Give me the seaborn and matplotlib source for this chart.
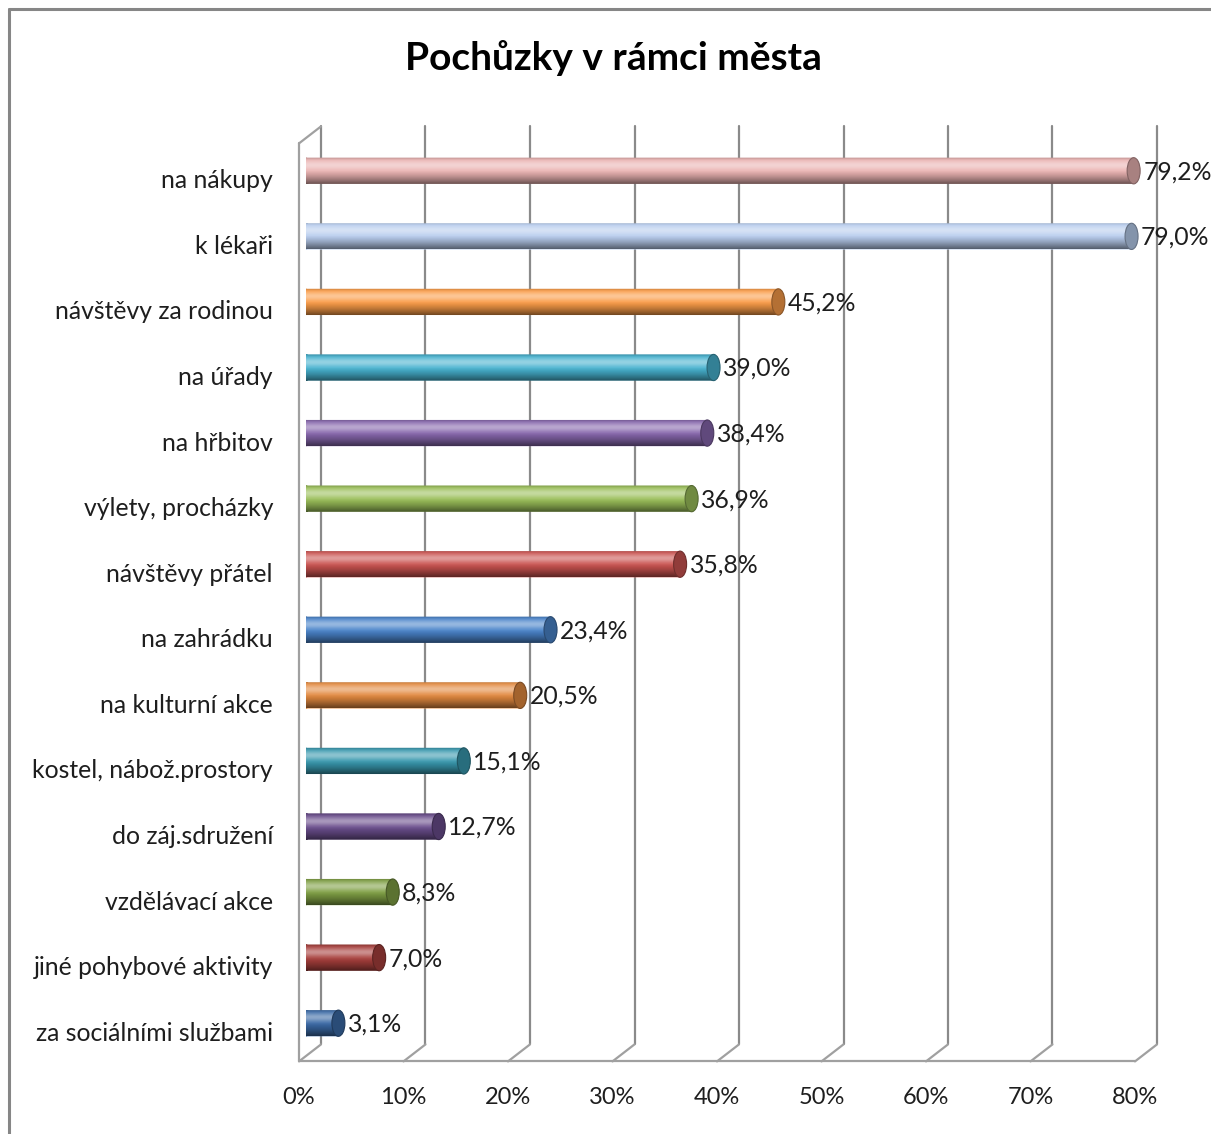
import matplotlib
matplotlib.use("Agg")
import matplotlib.pyplot as plt
import numpy as np
import pandas as pd
import seaborn as sns
from matplotlib.colors import to_rgb
from matplotlib.lines import Line2D
from matplotlib.patches import Ellipse, PathPatch
from matplotlib.path import Path
from matplotlib.transforms import ScaledTranslation

categories = [
    "na nákupy",
    "k lékaři",
    "návštěvy za rodinou",
    "na úřady",
    "na hřbitov",
    "výlety, procházky",
    "návštěvy přátel",
    "na zahrádku",
    "na kulturní akce",
    "kostel, nábož.prostory",
    "do záj.sdružení",
    "vzdělávací akce",
    "jiné pohybové aktivity",
    "za sociálními službami",
]
values = [79.2, 79.0, 45.2, 39.0, 38.4, 36.9, 35.8, 23.4, 20.5, 15.1, 12.7, 8.3, 7.0, 3.1]
colors = [
    "#EAB3B2", "#B8CDEE", "#FA9C48", "#47B2CF", "#8666AC", "#9BBF5A", "#CA5350",
    "#4A84CA", "#E2893F", "#3898AE", "#6A4D8C", "#7F9F44", "#A73F3C", "#3A69A5",
]
x_ticks = [0, 10, 20, 30, 40, 50, 60, 70, 80]
title = "Pochůzky v rámci města"

sns.set_theme(style="white")
plt.rcParams["font.family"] = ["Lato", "DejaVu Sans"]

DPI = 100
fig = plt.figure(figsize=(12.11, 11.34), dpi=DPI)
W, H = 1211, 1134
# axes = the plane in which the cylinders sit
ax = fig.add_axes([306 / W, 1 - 1056 / H, 836 / W, 918 / H])

df = pd.DataFrame({"item": categories, "pct": values})
sns.barplot(
    data=df, x="pct", y="item", hue="item", palette=colors,
    width=0.4, legend=False, ax=ax, saturation=1, zorder=3,
)
n = len(categories)
ax.set_xlim(0, 80)
ax.set_ylim(n - 0.5, -0.5)
ax.set_autoscale_on(False)
ax.axis("off")


def shifted(dx, dy):
    return ax.transData + ScaledTranslation(dx / DPI, dy / DPI, fig.dpi_scale_trans)


front = shifted(-7, -5.4)
back = shifted(15, 11.6)
inv = fig.transFigure.inverted()


def seg(p_trans, p, q_trans, q, color="#8A8A8A", lw=1.6):
    a = inv.transform(p_trans.transform(p))
    b = inv.transform(q_trans.transform(q))
    ax.add_line(Line2D([a[0], b[0]], [a[1], b[1]], transform=fig.transFigure,
                       color=color, lw=lw, clip_on=False, zorder=0.5))


y_top, y_bot = -0.5, n - 0.5
for t in x_ticks:
    seg(back, (t, y_top), back, (t, y_bot))
    seg(back, (t, y_bot), front, (t, y_bot), color="#A0A0A0")
seg(front, (0, y_bot), front, (80, y_bot), color="#A0A0A0")
seg(front, (0, y_top), front, (0, y_bot), color="#A0A0A0")
seg(front, (0, y_top), back, (0, y_top), color="#A0A0A0")

# cylinder shading
g = np.linspace(0, 1, 80)
light = np.zeros((80, 1, 4))
light[..., :3] = 1.0
light[:, 0, 3] = 0.42 * np.exp(-((g - 0.3) / 0.17) ** 2)
dark = np.zeros((80, 1, 4))
dark[:, 0, 3] = 0.55 * np.clip((g - 0.5) / 0.5, 0, 1) ** 1.3 + 0.18 * np.exp(-(g / 0.07) ** 2)

cap_w = 13 / (836 / 80)
for patch, col in zip(ax.patches[:n], colors):
    x0, y0 = patch.get_x(), patch.get_y()
    w, h = patch.get_width(), patch.get_height()
    patch.set_visible(False)
    left = Ellipse((x0, y0 + h / 2), cap_w, h)
    body_path = Path.make_compound_path(
        patch.get_path().transformed(patch.get_patch_transform()),
        left.get_path().transformed(left.get_patch_transform()),
    )
    body = PathPatch(body_path, facecolor=col, edgecolor="none", zorder=3)
    ax.add_patch(body)
    for layer in (light, dark):
        im = ax.imshow(layer, extent=(x0 - cap_w / 2, x0 + w, y0 + h, y0),
                       aspect="auto", zorder=3.1, interpolation="bilinear")
        im.set_clip_path(body)
    rgb = np.array(to_rgb(col))
    ax.add_patch(Ellipse((x0 + w, y0 + h / 2), cap_w, h, facecolor=rgb * 0.72,
                         edgecolor=rgb * 0.55, lw=0.8, zorder=3.5))

ax.set_xlim(0, 80)
ax.set_ylim(n - 0.5, -0.5)

text_color = "#1E1E1E"
for i, (name, v) in enumerate(zip(categories, values)):
    ax.text(0, i, name, transform=shifted(-33, -10), ha="right", va="center",
            fontsize=17.8, color=text_color)
    ax.text(v, i, f"{v:.1f}%".replace(".", ","), transform=shifted(cap_w * 836 / 80 / 2 + 3, -1),
            ha="left", va="center", fontsize=17.8, color=text_color, zorder=5)

for t in x_ticks:
    ax.text(t, y_bot, f"{t}%", transform=shifted(-7, -41.5), ha="center", va="center",
            fontsize=17, color=text_color)

fig.text(613 / W, 1 - 58 / H, title, ha="center", va="center", fontsize=28,
         fontweight="bold", color="#000000")

# chart area frame (only left/top edges are visible in the crop)
fig.add_artist(Line2D([9 / W, 9 / W], [0, 1 - 9 / H], transform=fig.transFigure,
                      color="#868686", lw=2.2))
fig.add_artist(Line2D([9 / W, 1], [1 - 9 / H, 1 - 9 / H], transform=fig.transFigure,
                      color="#868686", lw=2.2))

fig.savefig("out.png", dpi=DPI, facecolor="white")
